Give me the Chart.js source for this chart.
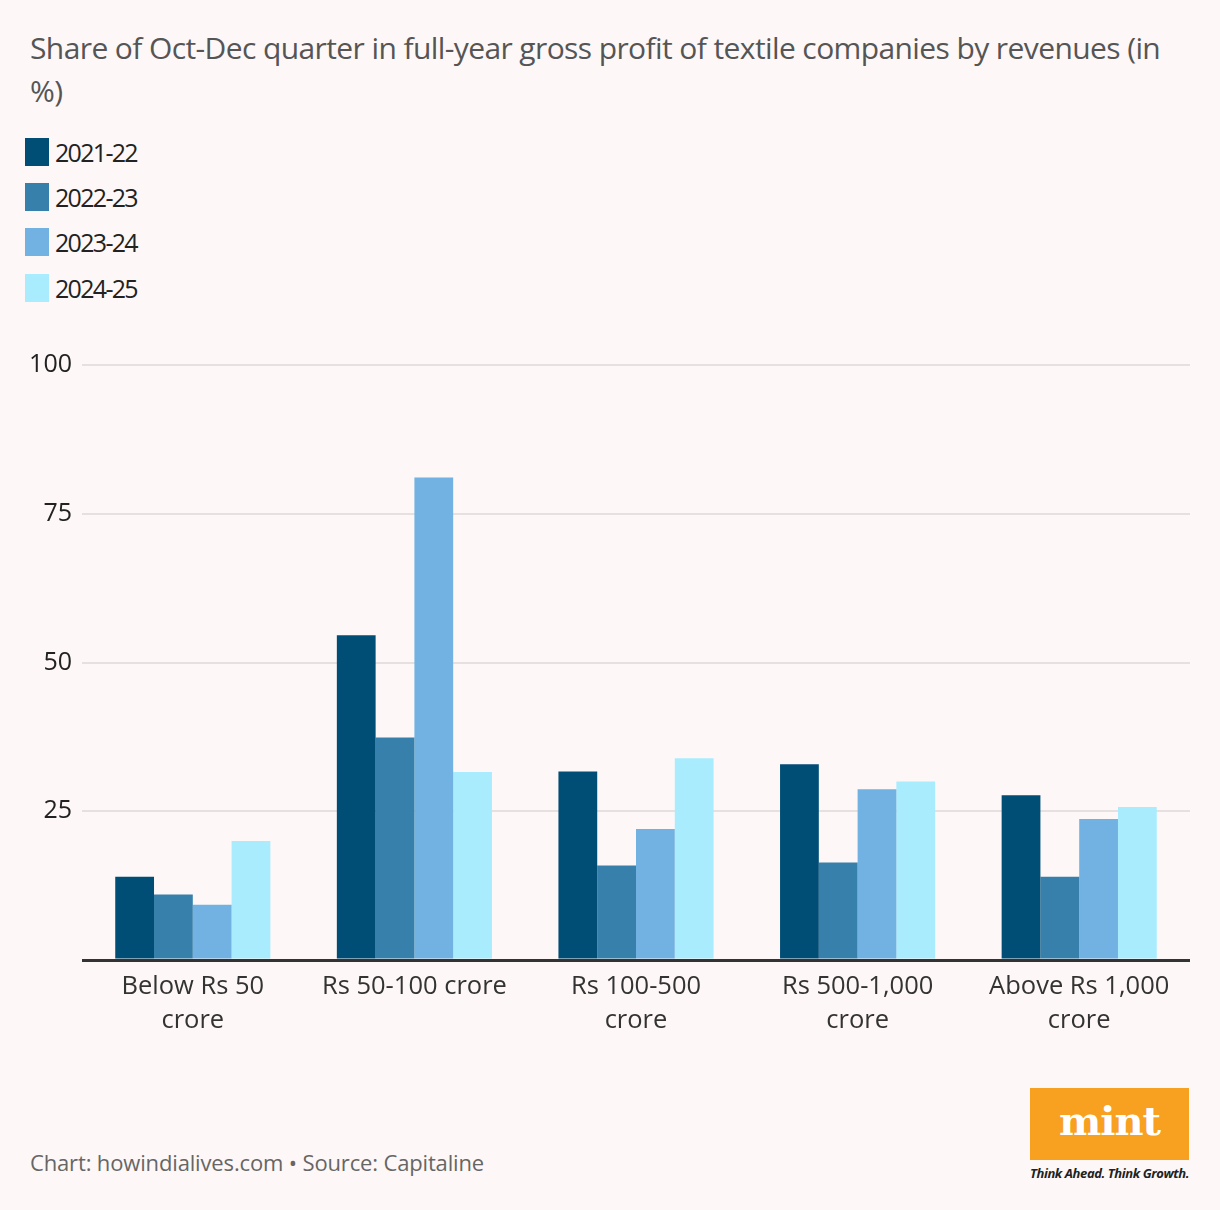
<!DOCTYPE html>
<html>
<head>
<meta charset="utf-8">
<script src="https://cdn.jsdelivr.net/npm/chart.js@4"></script>
<style>
  body { margin: 0; background: #fdf8f7; width: 1220px; height: 1210px; position: relative; overflow: hidden; font-family: "Open Sans", sans-serif; }
  #title { position: absolute; left: 30px; top: 26px; width: 1150px; font-size: 30px; line-height: 43px; color: #555; letter-spacing: -0.6px; }
  #legend { position: absolute; left: 25px; top: 129px; }
  .item { display: flex; align-items: center; height: 45.3px; font-size: 25px; color: #222; letter-spacing: -1.7px; }
  .sw { width: 24px; height: 28px; margin-right: 6px; }
  #wrap { position: absolute; left: 0; top: 340px; width: 1220px; height: 720px; }
  #foot { position: absolute; left: 30px; top: 1147px; font-size: 22px; color: #666; letter-spacing: -0.15px; }
  #logo { position: absolute; left: 1030px; top: 1088px; width: 159px; height: 72px; background: #f8a01f; color: #fff; font-family: "DejaVu Serif", serif; font-weight: bold; font-size: 40px; text-align: center; line-height: 66px; letter-spacing: -1px; }
  #tag { position: absolute; left: 1030px; top: 1164px; width: 162px; font-size: 13px; font-style: italic; font-weight: bold; color: #222; letter-spacing: -0.4px; white-space: nowrap; }
</style>
</head>
<body>
<div id="title">Share of Oct-Dec quarter in full-year gross profit of textile companies by revenues (in %)</div>
<div id="legend"></div>
<div id="wrap"><canvas id="myChart"></canvas></div>
<div id="foot">Chart: howindialives.com • Source: Capitaline</div>
<div id="logo">mint</div>
<div id="tag">Think Ahead. Think Growth.</div>
<script>
const categories = [['Below Rs 50', 'crore'], 'Rs 50-100 crore', ['Rs 100-500', 'crore'], ['Rs 500-1,000', 'crore'], ['Above Rs 1,000', 'crore']];
const seriesNames = ['2021-22', '2022-23', '2023-24', '2024-25'];
const fy2122 = [14.0, 54.6, 31.7, 32.9, 27.7];
const fy2223 = [11.0, 37.4, 15.9, 16.4, 14.0];
const fy2324 = [9.3, 81.1, 22.0, 28.7, 23.7];
const fy2425 = [20.0, 31.6, 33.9, 30.0, 25.7];
const yTicks = [0, 25, 50, 75, 100];
const colors = ['#004d76', '#3680ab', '#71b2e2', '#a8ecfe'];

const series = [fy2122, fy2223, fy2324, fy2425];

const legend = document.getElementById('legend');
seriesNames.forEach((name, i) => {
    const row = document.createElement('div');
    row.className = 'item';
    row.innerHTML = '<span class="sw" style="background:' + colors[i] + '"></span>' + name;
    legend.appendChild(row);
});

const ctx = document.getElementById('myChart');

new Chart(ctx, {
    type: 'bar',
    data: {
        labels: categories,
        datasets: series.map((d, i) => ({
            label: seriesNames[i],
            data: d,
            backgroundColor: colors[i],
            categoryPercentage: 0.7,
            barPercentage: 1.0
        }))
    },
    options: {
        responsive: true,
        maintainAspectRatio: false,
        animation: false,
        layout: {
            padding: { top: 21, right: 30, left: 0, bottom: 0 }
        },
        plugins: {
            legend: { display: false },
            tooltip: { enabled: false }
        },
        scales: {
            x: {
                afterFit: scale => { scale.height = 100; },
                grid: { display: false },
                border: { display: false },
                ticks: {
                    color: '#333',
                    padding: 2,
                    font: { family: 'Open Sans', size: 25.5, lineHeight: 1.33 },
                    maxRotation: 0
                }
            },
            y: {
                min: 0,
                max: 100,
                afterFit: scale => { scale.width = 82; },
                afterBuildTicks: scale => { scale.ticks = yTicks.map(v => ({ value: v })); },
                border: { display: false },
                grid: {
                    drawTicks: false,
                    color: c => c.tick.value === 0 ? '#333' : '#e6e1e0',
                    lineWidth: c => c.tick.value === 0 ? 3 : 2
                },
                ticks: {
                    color: '#222',
                    padding: 10,
                    font: { family: 'Open Sans', size: 25 },
                    callback: v => v === 0 ? '' : v
                }
            }
        }
    }
});
</script>
</body>
</html>
